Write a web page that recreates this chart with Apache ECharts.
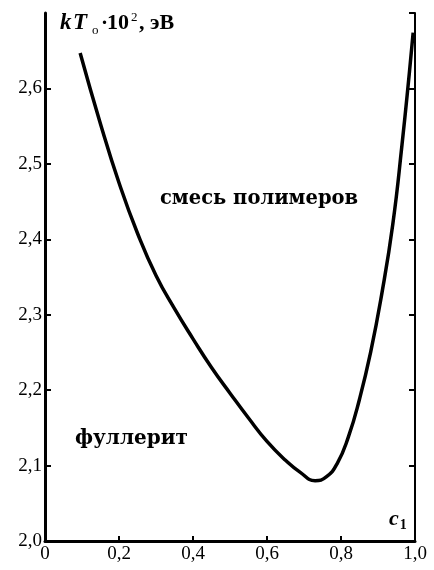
<!DOCTYPE html>
<html>
<head>
<meta charset="utf-8">
<script src="https://cdn.jsdelivr.net/npm/echarts@6/dist/echarts.min.js"></script>
<style>
  html, body { margin: 0; padding: 0; background: #fff; }
  #chart { width: 434px; height: 570px; }
</style>
</head>
<body>
<div id="chart"></div>
<script>
// концентрация c1 и температура kT0*10^2, эВ
var cValues = [0.095, 0.15, 0.20, 0.25, 0.30, 0.35, 0.40, 0.45, 0.50, 0.55, 0.60, 0.65,
  0.69, 0.73, 0.76, 0.79, 0.82, 0.85, 0.88, 0.91, 0.94, 0.965, 0.985, 0.995];
var kTValues = [2.647, 2.553, 2.475, 2.408, 2.352, 2.308, 2.268, 2.230, 2.196, 2.163, 2.132, 2.107,
  2.091, 2.080, 2.085, 2.103, 2.138, 2.188, 2.250, 2.327, 2.420, 2.526, 2.622, 2.674];

var serif = '"Liberation Serif", "DejaVu Serif", serif';

function fmt(v) {
  if (v === 0) return '0';
  return v.toFixed(1).replace('.', ',');
}

var curve = [];
for (var i = 0; i < cValues.length; i++) {
  curve.push([cValues[i], kTValues[i]]);
}

var chart = echarts.init(document.getElementById('chart'), null, { renderer: 'canvas' });

var axisLine = { show: true, lineStyle: { color: '#000', width: 3 } };

var option = {
  backgroundColor: '#fff',
  animation: false,
  grid: { left: 45, right: 19, top: 13, bottom: 29 },
  xAxis: {
    type: 'value', min: 0, max: 1, interval: 0.2,
    axisLine: axisLine,
    axisTick: { show: true, inside: true, length: 5, lineStyle: { color: '#000', width: 2 } },
    axisLabel: {
      color: '#000', fontFamily: serif, fontSize: 19, margin: 4,
      formatter: fmt
    },
    splitLine: { show: false }
  },
  yAxis: [{
    type: 'value', min: 2.0, max: 2.7, interval: 0.1, position: 'left',
    axisLine: axisLine,
    axisTick: { show: true, inside: true, length: 6, lineStyle: { color: '#000', width: 2 } },
    axisLabel: {
      color: '#000', fontFamily: serif, fontSize: 19, margin: 3,
      showMaxLabel: false,
      formatter: function (v) { return Math.abs(v - 2.7) < 1e-6 ? '' : fmt(v); }
    },
    splitLine: { show: false }
  }, {
    type: 'value', min: 2.0, max: 2.7, interval: 0.1, position: 'right',
    axisLine: { show: true, lineStyle: { color: '#000', width: 2 } },
    axisTick: { show: true, inside: true, length: 6, lineStyle: { color: '#000', width: 2 } },
    axisLabel: { show: false },
    splitLine: { show: false }
  }],
  series: [{
    type: 'line',
    data: curve,
    smooth: 0.5,
    symbol: 'none',
    lineStyle: { color: '#000', width: 3.5 }
  }],
  graphic: [{
    type: 'text', left: 60, top: 11,
    style: {
      text: '{k|k}{t|T}{s|o}{m|·}{n|10}{p|2}{e|, эВ}',
      rich: {
        k: { fontFamily: serif, fontSize: 23, fontWeight: 'bold', fontStyle: 'italic', fill: '#000', width: 13 },
        t: { fontFamily: serif, fontSize: 23, fontWeight: 'bold', fontStyle: 'italic', fill: '#000', width: 19 },
        s: { fontFamily: serif, fontSize: 13, fill: '#000', width: 9, padding: [14, 0, 0, 0] },
        m: { fontFamily: serif, fontSize: 21, fontWeight: 'bold', fill: '#000', width: 6 },
        n: { fontFamily: serif, fontSize: 22, fontWeight: 'bold', fill: '#000', width: 24 },
        p: { fontFamily: serif, fontSize: 13, fill: '#000', width: 8, padding: [0, 0, 12, 0] },
        e: { fontFamily: serif, fontSize: 22, fontWeight: 'bold', fill: '#000' }
      }
    }
  }, {
    type: 'text', left: 389, top: 508,
    style: {
      text: '{c|c}{i|1}',
      rich: {
        c: { fontFamily: serif, fontSize: 22, fontWeight: 'bold', fontStyle: 'italic', fill: '#000' },
        i: { fontFamily: serif, fontSize: 14, fontWeight: 'bold', fill: '#000', padding: [12, 0, 0, 1] }
      }
    }
  }, {
    type: 'text', left: 160, top: 189,
    style: {
      text: 'смесь полимеров',
      font: 'bold 19.5px "DejaVu Serif", serif',
      fill: '#000'
    }
  }, {
    type: 'text', left: 75, top: 429,
    style: {
      text: 'фуллерит',
      font: 'bold 20px "DejaVu Serif", serif',
      fill: '#000'
    }
  }]
};

chart.setOption(option);
</script>
</body>
</html>
